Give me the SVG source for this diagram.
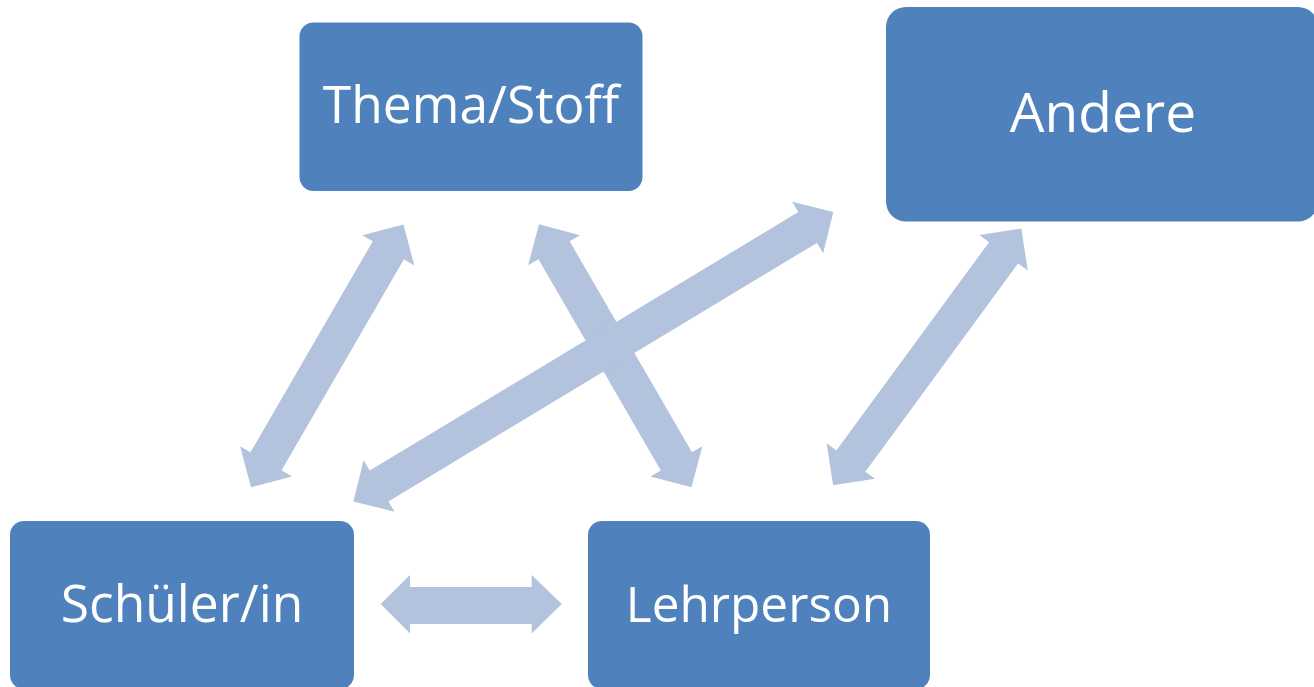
<svg xmlns="http://www.w3.org/2000/svg" width="1314" height="687" viewBox="0 0 1314 687">
  <defs>
    <style>
      .box { fill: #4F81BD; }
      .lbl { fill: #FFFFFF; font-family: "Open Sans", "Liberation Sans", sans-serif; text-anchor: middle; }
      .arr { fill: #B3C3DD; }
    </style>
  </defs>
  <rect width="1314" height="687" fill="#FFFFFF"/>
  <g id="connectors">
    <polygon class="arr" transform="translate(251,487.3) rotate(-59.9)" points="0,0 30,-30 30,-18 273.9,-18 273.9,-30 303.9,0 273.9,30 273.9,18 30,18 30,30"/>
    <polygon class="arr" transform="translate(539,224.3) rotate(59.9)" points="0,0 30,-30 30,-18 274,-18 274,-30 304,0 274,30 274,18 30,18 30,30"/>
    <polygon class="arr" transform="translate(353.4,501.5) rotate(-31.1)" points="0,0 30,-30 30,-18 530.5,-18 530.5,-30 560.5,0 530.5,30 530.5,18 30,18 30,30"/>
    <polygon class="arr" transform="translate(833.1,485.3) rotate(-53.75)" points="0,0 30,-30 30,-18 288.3,-18 288.3,-30 318.3,0 288.3,30 288.3,18 30,18 30,30"/>
    <polygon class="arr" points="380.7,604 410,575 410,587 531.7,587 531.7,575 561.7,604 531.7,633.5 531.7,624 410,624 410,633.5"/>
  </g>
  <g id="node-thema">
    <rect class="box" x="299.5" y="22.5" width="343" height="168.5" rx="14" ry="14"/>
    <text class="lbl" x="471" y="122.5" font-size="51.5">Thema/Stoff</text>
  </g>
  <g id="node-andere">
    <rect class="box" x="886" y="7" width="432" height="214.5" rx="20" ry="20"/>
    <text class="lbl" x="1103" y="131.5" font-size="55">Andere</text>
  </g>
  <g id="node-schueler">
    <rect class="box" x="10" y="521" width="344" height="168" rx="14" ry="14"/>
    <text class="lbl" x="182" y="621.5" font-size="51.5">Schüler/in</text>
  </g>
  <g id="node-lehrperson">
    <rect class="box" x="588" y="521" width="342" height="168" rx="14" ry="14"/>
    <text class="lbl" x="759" y="621.5" font-size="49.5">Lehrperson</text>
  </g>
</svg>
